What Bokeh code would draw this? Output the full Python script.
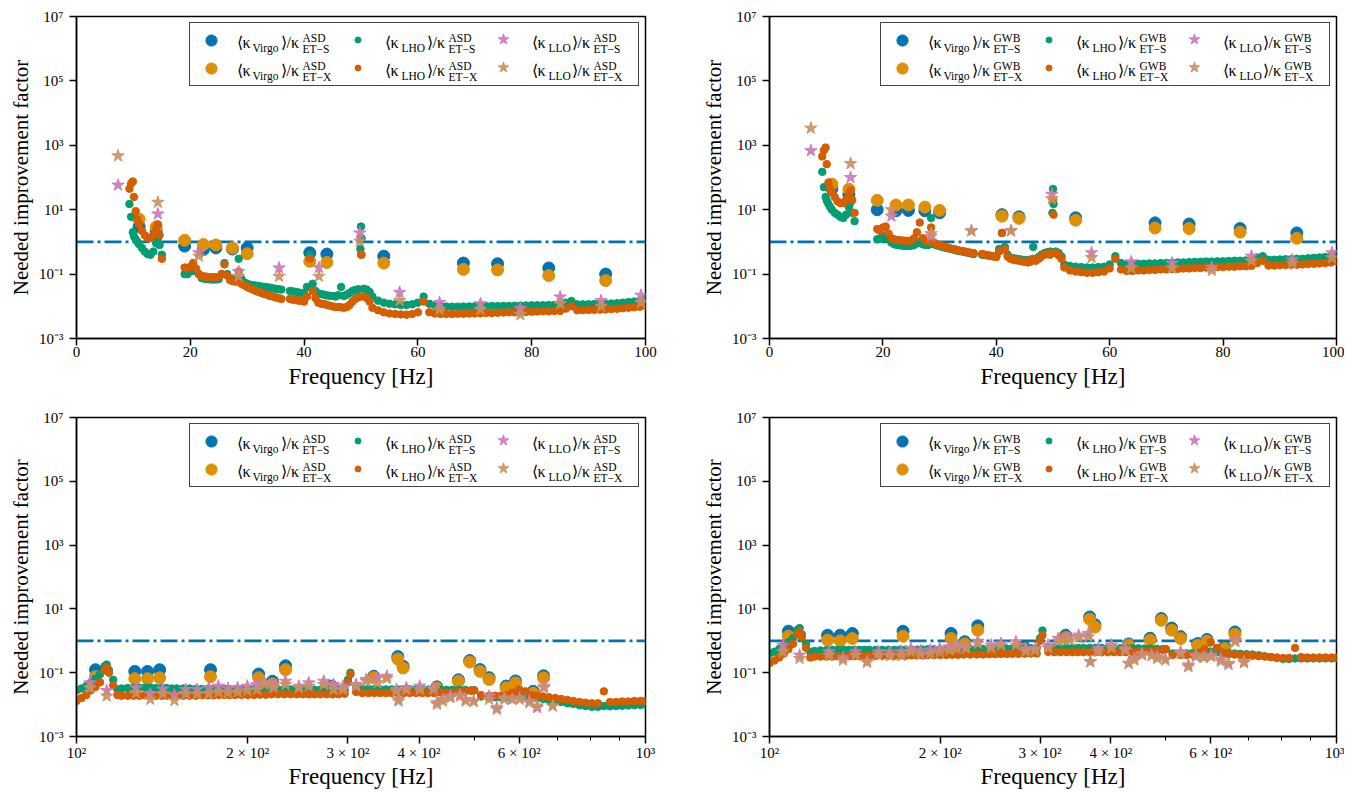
from bokeh.plotting import figure
from bokeh.models import Range1d, FixedTicker, Span, Legend, LegendItem, Label
from bokeh.layouts import column, row
from bokeh.embed import file_html
from bokeh.resources import INLINE

# ---------------- data ----------------
THRESHOLD = 1.0

# frequency grid of the LHO curves, 0-100 Hz panels
FREQ_LO = [9.3, 9.6, 9.9, 10.1, 10.4, 10.7, 11.0, 11.5, 12.0, 12.5, 13.0, 13.5, 14.0, 14.3, 14.6, 15.0,
           19.0, 19.5, 20.0, 20.5, 21.0, 21.5, 22.0, 22.5, 23.0, 23.5, 24.0, 24.5, 25.0, 25.5, 26.0, 26.5,
           27.0, 27.5, 28.0, 28.5, 29.0, 29.5, 30.0, 30.5, 31.0, 31.5, 32.0, 32.5, 33.0, 33.5, 34.0, 34.5,
           35.0, 35.5, 36.0,
           37.5, 38.0, 38.5, 39.0, 39.5, 40.0, 40.5, 41.0, 41.5, 42.0, 42.5, 43.0, 43.5, 44.0, 44.5, 45.0,
           45.5, 46.0, 46.5, 47.0, 47.5, 48.0, 48.5, 49.0, 49.5, 49.9, 50.0, 50.1, 50.5, 51.0, 51.5, 52.0,
           53, 54, 55, 56, 57, 58, 59, 60, 61, 62, 63, 64, 65, 66, 67, 68, 69, 70, 71, 72, 73, 74, 75, 76,
           77, 78, 79, 80, 81, 82, 83, 84, 85, 86, 87, 88, 89, 90, 91, 92, 93, 94, 95, 96, 97, 98, 99, 100]

LHO_S_ASD_LO = [15, 6, 2.0, 1.5, 1.2, 1.0, 0.85, 0.65, 0.5, 0.42, 0.4, 0.5, 0.9, 1.3, 0.8, 0.4,
                0.10, 0.10, 0.12, 0.14, 0.12, 0.10, 0.075, 0.072, 0.07, 0.068, 0.068, 0.068, 0.07, 0.10, 0.22, 0.10,
                0.072, 0.068, 0.065, 0.30, 0.07, 0.055, 0.05, 0.047, 0.045, 0.044, 0.043, 0.041, 0.04, 0.039, 0.038, 0.036,
                0.035, 0.034, 0.033,
                0.030, 0.029, 0.028, 0.027, 0.026, 0.025, 0.04, 0.40, 0.05, 0.03, 0.025, 0.024, 0.023, 0.022, 0.021, 0.021,
                0.02, 0.022, 0.04, 0.021, 0.023, 0.026, 0.03, 0.032, 0.034, 0.6, 3.0, 1.3, 0.035, 0.033, 0.028, 0.02,
                0.015, 0.013, 0.012, 0.0115, 0.011, 0.011, 0.0115, 0.013, 0.02, 0.012, 0.0105, 0.01, 0.0098, 0.0097,
                0.0097, 0.0098, 0.0099, 0.01, 0.01, 0.0101, 0.0102, 0.0102, 0.0103, 0.0103, 0.0104, 0.0105, 0.0106,
                0.0107, 0.0108, 0.0108, 0.0109, 0.011, 0.0112, 0.013, 0.0145, 0.0115, 0.0115, 0.0116, 0.0117, 0.0118,
                0.012, 0.0122, 0.0125, 0.013, 0.0135, 0.014, 0.015, 0.017]
LHO_X_ASD_LO = [45, 65, 75, 25, 9, 5, 3.5, 2.2, 1.6, 1.3, 1.3, 1.7, 2.6, 3.5, 1.6, 0.3,
                0.16, 0.15, 0.17, 0.22, 0.15, 0.10, 0.085, 0.085, 0.082, 0.08, 0.08, 0.08, 0.082, 0.10, 0.20, 0.09,
                0.065, 0.06, 0.058, 0.12, 0.05, 0.045, 0.04, 0.036, 0.033, 0.03, 0.028, 0.026, 0.024, 0.023, 0.021, 0.02,
                0.019, 0.018, 0.017,
                0.017, 0.016, 0.016, 0.015, 0.015, 0.014, 0.02, 0.30, 0.03, 0.018, 0.013, 0.012, 0.012, 0.011, 0.0105, 0.01,
                0.0095, 0.0095, 0.0093, 0.009, 0.0095, 0.011, 0.014, 0.017, 0.019, 0.02, 0.4, 0.4, 0.02, 0.018, 0.014, 0.009,
                0.0075, 0.0065, 0.006, 0.0058, 0.0056, 0.0055, 0.0058, 0.0065, 0.014, 0.0065, 0.006, 0.0058, 0.0058,
                0.0058, 0.0059, 0.0059, 0.006, 0.006, 0.0061, 0.0062, 0.0062, 0.0063, 0.0064, 0.0065, 0.0065, 0.0066,
                0.0067, 0.0068, 0.0069, 0.007, 0.007, 0.0071, 0.0072, 0.0085, 0.01, 0.0075, 0.0076, 0.0077, 0.0078,
                0.0079, 0.008, 0.0082, 0.0084, 0.0087, 0.009, 0.0093, 0.0097, 0.0105]
LHO_S_GWB_LO = [150, 50, 25, 19, 15, 12, 10, 8, 7, 6, 5.5, 7, 12, 17, 8, 4.4,
                1.2, 1.25, 1.4, 1.5, 1.2, 0.95, 0.85, 0.8, 0.78, 0.76, 0.75, 0.75, 0.76, 0.8, 0.9, 1.0,
                0.85, 0.8, 0.8, 5.5, 0.85, 0.78, 0.74, 0.7, 0.66, 0.63, 0.6, 0.57, 0.54, 0.52, 0.5, 0.48,
                0.46, 0.44, 0.42,
                0.40, 0.39, 0.38, 0.37, 0.36, 0.35, 0.6, 1.9, 0.7, 0.4, 0.32, 0.31, 0.30, 0.29, 0.28, 0.27,
                0.27, 0.28, 0.7, 0.3, 0.34, 0.4, 0.45, 0.48, 0.5, 8, 44, 15, 0.5, 0.45, 0.35, 0.2,
                0.18, 0.17, 0.165, 0.16, 0.16, 0.165, 0.17, 0.2, 0.36, 0.22, 0.2, 0.2, 0.21, 0.21, 0.215, 0.215,
                0.22, 0.22, 0.225, 0.23, 0.23, 0.235, 0.24, 0.24, 0.245, 0.245, 0.25, 0.25, 0.255, 0.26, 0.26,
                0.265, 0.27, 0.33, 0.36, 0.28, 0.28, 0.285, 0.29, 0.29, 0.3, 0.3, 0.31, 0.32, 0.33, 0.34, 0.35, 0.42]
LHO_X_GWB_LO = [450, 700, 850, 260, 70, 45, 35, 25, 18, 16, 16, 20, 30, 40, 20, 8,
                2.5, 2.2, 2.8, 3.0, 1.8, 1.3, 1.2, 1.15, 1.12, 1.1, 1.08, 1.08, 1.1, 1.3, 2.0, 4.0,
                1.3, 1.1, 1.0, 2.8, 0.95, 0.85, 0.8, 0.75, 0.7, 0.66, 0.62, 0.6, 0.57, 0.54, 0.52, 0.5,
                0.48, 0.46, 0.45,
                0.42, 0.4, 0.38, 0.37, 0.35, 0.34, 0.5, 1.9, 0.6, 0.35, 0.3, 0.28, 0.27, 0.26, 0.25, 0.24,
                0.23, 0.24, 0.3, 0.26, 0.3, 0.36, 0.4, 0.42, 0.4, 0.45, 20, 7, 0.45, 0.38, 0.3, 0.16,
                0.13, 0.12, 0.115, 0.11, 0.11, 0.115, 0.12, 0.15, 0.3, 0.14, 0.125, 0.125, 0.13, 0.13, 0.135, 0.135,
                0.14, 0.14, 0.145, 0.145, 0.15, 0.15, 0.155, 0.155, 0.16, 0.16, 0.165, 0.165, 0.17, 0.17, 0.175,
                0.175, 0.18, 0.22, 0.26, 0.185, 0.185, 0.19, 0.19, 0.195, 0.195, 0.2, 0.205, 0.21, 0.215, 0.22, 0.23, 0.25]

VIRGO_F_LO = [11.0, 14.0, 19.0, 22.3, 24.5, 27.4, 30.0, 41.0, 44.0, 54.0, 68.0, 74.0, 83.0, 93.0]
VIRGO_S_ASD_LO = [3.0, 2.2, 0.74, 0.58, 0.65, 0.6, 0.65, 0.46, 0.42, 0.36, 0.22, 0.21, 0.155, 0.1]
VIRGO_X_ASD_LO = [5.1, 2.9, 1.12, 0.83, 0.8, 0.65, 0.43, 0.25, 0.23, 0.22, 0.14, 0.135, 0.09, 0.063]
VIRGO_S_GWB_LO = [45, 30, 10, 9.3, 9.5, 9.3, 8, 7, 6, 5.6, 3.9, 3.6, 2.6, 1.9]
VIRGO_X_GWB_LO = [62, 43, 19.5, 14, 14, 12, 9.5, 6.3, 5.4, 4.7, 2.7, 2.6, 2.0, 1.3]

LLO_F_LO = [7.3, 14.3, 21.5, 28.5, 35.6, 42.6, 49.8, 56.8, 63.8, 71.0, 78.0, 85.0, 92.2, 99.2]
LLO_S_ASD_LO = [58, 7.4, 0.46, 0.12, 0.155, 0.16, 1.9, 0.027, 0.013, 0.012, 0.0087, 0.0195, 0.015, 0.022]
LLO_X_ASD_LO = [470, 17, 0.36, 0.085, 0.085, 0.085, 1.05, 0.015, 0.0079, 0.0079, 0.0055, 0.012, 0.01, 0.013]
LLO_S_GWB_LO = [680, 100, 6.3, 1.5, 2.2, 2.2, 30, 0.46, 0.24, 0.22, 0.16, 0.36, 0.28, 0.46]
LLO_X_GWB_LO = [3400, 270, 10, 1.8, 2.2, 2.2, 22, 0.33, 0.155, 0.155, 0.13, 0.26, 0.22, 0.32]

# frequency grid of the LHO curves, 100-1000 Hz panels
FREQ_HI = [100, 102, 104, 106, 108, 110, 112, 113, 114, 116,
           118, 120, 123, 126, 129, 132, 135, 138, 141, 144,
           147, 150, 154, 158, 162, 166, 170, 174, 178, 182,
           186, 190, 195, 200, 205, 210, 215, 220, 226, 232,
           238, 244, 250, 256, 262, 268, 275, 282, 289, 296,
           300, 303, 310, 318, 326, 334, 342, 350, 358, 367,
           376, 385, 395, 405, 415, 425, 436, 447, 458, 470,
           482, 494, 500, 514, 531, 544, 557, 571, 585, 600,
           615, 630, 645, 661, 677, 694, 711, 729, 747, 766,
           785, 805, 825, 845, 866, 888, 910, 933, 956, 980, 1000]
LHO_S_ASD_HI = [0.028, 0.032, 0.038, 0.05, 0.065, 0.09, 0.16, 0.18, 0.12, 0.06,
                0.03, 0.032, 0.033, 0.034, 0.034, 0.034, 0.034, 0.033, 0.033, 0.033,
                0.032, 0.032, 0.032, 0.032, 0.031, 0.031, 0.031, 0.031, 0.031, 0.031,
                0.03, 0.03, 0.03, 0.03, 0.03, 0.03, 0.03, 0.03, 0.03, 0.03,
                0.03, 0.03, 0.03, 0.03, 0.029, 0.029, 0.029, 0.029, 0.029, 0.029,
                0.06, 0.1, 0.032, 0.031, 0.031, 0.031, 0.03, 0.03, 0.03, 0.03,
                0.03, 0.03, 0.03, 0.03, 0.029, 0.029, 0.029, 0.029, 0.029, 0.029,
                0.029, 0.028, 0.028, 0.018, 0.017, 0.017, 0.017, 0.017, 0.018, 0.019,
                0.018, 0.017, 0.016, 0.015, 0.014, 0.013, 0.012, 0.011, 0.0105, 0.0095,
                0.009, 0.0085, 0.0085, 0.009, 0.0088, 0.009, 0.0092, 0.0094, 0.0096, 0.0098, 0.01]
LHO_X_ASD_HI = [0.013, 0.016, 0.02, 0.028, 0.036, 0.05, 0.12, 0.14, 0.10, 0.04,
                0.02, 0.019, 0.019, 0.019, 0.019, 0.0195, 0.0195, 0.019, 0.019, 0.019,
                0.019, 0.019, 0.019, 0.019, 0.019, 0.0195, 0.0195, 0.0195, 0.02, 0.02,
                0.02, 0.02, 0.02, 0.02, 0.02, 0.0205, 0.0205, 0.021, 0.021, 0.021,
                0.021, 0.021, 0.021, 0.021, 0.021, 0.021, 0.021, 0.021, 0.021, 0.022,
                0.05, 0.09, 0.025, 0.023, 0.023, 0.023, 0.023, 0.023, 0.023, 0.023,
                0.023, 0.023, 0.023, 0.023, 0.023, 0.023, 0.024, 0.024, 0.024, 0.025,
                0.026, 0.027, 0.028, 0.02, 0.019, 0.019, 0.019, 0.02, 0.024, 0.03,
                0.026, 0.02, 0.019, 0.018, 0.017, 0.016, 0.015, 0.014, 0.013, 0.012,
                0.0115, 0.011, 0.011, 0.026, 0.012, 0.012, 0.0125, 0.0125, 0.013, 0.013, 0.013]
LHO_S_GWB_HI = [0.4, 0.45, 0.55, 0.7, 0.9, 1.2, 2.2, 2.5, 1.6, 0.8,
                0.45, 0.48, 0.5, 0.51, 0.52, 0.52, 0.52, 0.52, 0.52, 0.52,
                0.52, 0.52, 0.52, 0.52, 0.52, 0.52, 0.53, 0.53, 0.53, 0.53,
                0.53, 0.54, 0.54, 0.54, 0.54, 0.55, 0.55, 0.55, 0.55, 0.56,
                0.56, 0.56, 0.56, 0.57, 0.57, 0.57, 0.57, 0.57, 0.58, 0.58,
                1.2, 2.1, 0.6, 0.6, 0.6, 0.6, 0.6, 0.6, 0.6, 0.6,
                0.6, 0.6, 0.59, 0.59, 0.58, 0.58, 0.58, 0.58, 0.57, 0.57,
                0.56, 0.55, 0.54, 0.4, 0.4, 0.4, 0.41, 0.42, 0.44, 0.46,
                0.44, 0.42, 0.41, 0.4, 0.39, 0.38, 0.37, 0.35, 0.33, 0.31,
                0.29, 0.27, 0.27, 0.28, 0.28, 0.28, 0.28, 0.28, 0.28, 0.28, 0.29]
LHO_X_GWB_HI = [0.2, 0.24, 0.3, 0.4, 0.55, 0.8, 1.6, 1.9, 1.3, 0.6,
                0.3, 0.32, 0.32, 0.32, 0.32, 0.325, 0.325, 0.33, 0.33, 0.33,
                0.33, 0.335, 0.335, 0.34, 0.34, 0.34, 0.345, 0.345, 0.35, 0.35,
                0.35, 0.355, 0.355, 0.36, 0.36, 0.365, 0.365, 0.37, 0.37, 0.375,
                0.375, 0.38, 0.38, 0.385, 0.385, 0.39, 0.39, 0.395, 0.4, 0.4,
                1.0, 1.5, 0.45, 0.44, 0.44, 0.44, 0.44, 0.44, 0.44, 0.44,
                0.44, 0.44, 0.44, 0.44, 0.44, 0.44, 0.45, 0.45, 0.45, 0.46,
                0.48, 0.52, 0.55, 0.36, 0.36, 0.36, 0.37, 0.4, 0.55, 0.9,
                0.6, 0.42, 0.38, 0.37, 0.36, 0.35, 0.34, 0.33, 0.32, 0.31,
                0.3, 0.29, 0.29, 0.6, 0.31, 0.3, 0.3, 0.3, 0.3, 0.3, 0.3]

VIRGO_F_HI = [108, 126.6, 133.3, 140, 172, 209, 221, 233, 281, 333, 367, 375, 430, 469, 491, 512, 531, 569, 591, 635, 662]
VIRGO_S_ASD_HI = [0.124, 0.11, 0.11, 0.124, 0.124, 0.091, 0.054, 0.165, 0.038, 0.077, 0.32, 0.16, 0.036, 0.06, 0.24, 0.125, 0.07, 0.038, 0.055, 0.026, 0.08]
VIRGO_X_ASD_HI = [0.075, 0.065, 0.065, 0.069, 0.075, 0.07, 0.045, 0.124, 0.035, 0.07, 0.27, 0.14, 0.033, 0.054, 0.215, 0.11, 0.061, 0.034, 0.048, 0.023, 0.069]
VIRGO_S_GWB_HI = [2.0, 1.5, 1.5, 1.7, 2.0, 1.7, 0.94, 2.95, 0.65, 1.5, 5.6, 3.2, 0.8, 1.2, 5.0, 2.5, 1.35, 0.82, 1.1, 0.65, 1.9]
VIRGO_X_GWB_HI = [1.4, 1.05, 1.0, 1.18, 1.4, 1.18, 0.8, 2.15, 0.55, 1.25, 4.75, 2.7, 0.73, 1.05, 4.4, 2.15, 1.18, 0.73, 0.97, 0.57, 1.6]

LLO_F_HI = [105.6, 113, 127.3, 134.8, 141.8, 148.6, 155.6, 163, 170.8, 177.6,
            184.6, 192, 199.6, 207.5, 214, 222, 233, 246, 256, 272,
            283, 294, 310, 323, 338, 351, 365, 368, 380, 401,
            424, 430, 440, 454, 472, 483, 499, 531, 548, 565,
            583, 601, 625, 645, 663, 687]
LLO_S_ASD_HI = [0.048, 0.0275, 0.0336, 0.0218, 0.031, 0.02, 0.0298, 0.0298, 0.0336, 0.0378,
                0.032, 0.0336, 0.0378, 0.0426, 0.048, 0.0426, 0.054, 0.0378, 0.048, 0.054,
                0.0426, 0.0378, 0.0426, 0.061, 0.0686, 0.077, 0.0298, 0.0146, 0.0336, 0.0378,
                0.0336, 0.0115, 0.0146, 0.0185, 0.02, 0.0146, 0.0129, 0.0185, 0.008, 0.0164,
                0.0146, 0.0164, 0.0129, 0.008, 0.0378, 0.0091]
LLO_X_ASD_HI = [0.0336, 0.0185, 0.0234, 0.0146, 0.0218, 0.0135, 0.0218, 0.0218, 0.0218, 0.025,
                0.0234, 0.025, 0.0275, 0.0298, 0.0426, 0.0336, 0.0426, 0.0336, 0.0378, 0.0426,
                0.0298, 0.0298, 0.0378, 0.054, 0.048, 0.066, 0.0264, 0.0129, 0.0298, 0.0298,
                0.0298, 0.0102, 0.0129, 0.0164, 0.0185, 0.0129, 0.0124, 0.0146, 0.0071, 0.0146,
                0.0146, 0.0146, 0.0115, 0.0091, 0.0336, 0.0091]
LLO_S_GWB_HI = [0.73, 0.356, 0.45, 0.294, 0.45, 0.23, 0.45, 0.44, 0.45, 0.575,
                0.49, 0.51, 0.575, 0.65, 0.73, 0.65, 0.97, 0.73, 0.83, 0.93,
                0.575, 0.575, 0.73, 1.18, 1.33, 1.5, 1.69, 0.22, 0.575, 0.73,
                0.575, 0.196, 0.28, 0.40, 0.356, 0.316, 0.267, 0.45, 0.174, 0.356,
                0.316, 0.356, 0.267, 0.182, 1.05, 0.22]
LLO_X_GWB_HI = [0.45, 0.28, 0.356, 0.249, 0.356, 0.21, 0.356, 0.34, 0.34, 0.45,
                0.374, 0.40, 0.45, 0.51, 0.575, 0.575, 0.83, 0.6, 0.73, 0.73,
                0.475, 0.51, 0.6, 0.97, 1.05, 1.24, 1.33, 0.22, 0.475, 0.6,
                0.51, 0.196, 0.249, 0.356, 0.34, 0.28, 0.249, 0.40, 0.154, 0.316,
                0.294, 0.316, 0.23, 0.196, 0.93, 0.205]

# axes
Y_RANGE = (1e-3, 1e7)
Y_TICKS = [1e-3, 1e-1, 1e1, 1e3, 1e5, 1e7]
Y_TICK_LABELS = ["10⁻³", "10⁻¹", "10¹", "10³", "10⁵", "10⁷"]
X_RANGE_LO = (0, 100)
X_TICKS_LO = [0, 20, 40, 60, 80, 100]
X_RANGE_HI = (100, 1000)
X_TICKS_HI = [100, 200, 300, 400, 600, 1000]
X_TICK_LABELS_HI = ["10²", "2 × 10²", "3 × 10²", "4 × 10²", "6 × 10²", "10³"]
X_MINOR_HI = [500, 700, 800, 900]

X_LABEL = "Frequency [Hz]"
Y_LABEL = "Needed improvement factor"
DETECTORS = ["Virgo", "LHO", "LLO"]
ET_NAMES = ["ET−S", "ET−X"]

# ---------------- style ----------------
COL_VIRGO = ["#0173B2", "#DE8F05"]
COL_LHO = ["#029E73", "#D55E00"]
COL_LLO = ["#CC78BC", "#CA9161"]
FONT = "Liberation Serif"

# legend text geometry (px, relative to the top-right corner of the frame)
LEG_TEXT_X = [-409, -261, -114]
LEG_SUB_DX = [16, 17, 17]
LEG_CLOSE_DX = [44, 42, 40]
LEG_SCRIPT_GAP = 22
LEG_ROW_Y = [-26, -54]


def make_panel(x_hi, width, height, border_left, border_right, border_top, border_bottom,
               xlabel_standoff, data, kind):
    common_fig = dict(width=width, height=height, y_axis_type="log", y_range=Range1d(*Y_RANGE),
                      output_backend="svg", toolbar_location=None,
                      min_border_left=border_left, min_border_right=border_right,
                      min_border_top=border_top, min_border_bottom=border_bottom)
    if x_hi:
        p = figure(x_axis_type="log", x_range=Range1d(*X_RANGE_HI), **common_fig)
        p.xaxis.ticker = FixedTicker(ticks=X_TICKS_HI, minor_ticks=X_MINOR_HI)
        p.xaxis.major_label_overrides = dict(zip(X_TICKS_HI, X_TICK_LABELS_HI))
        x_end = X_RANGE_HI[1]
    else:
        p = figure(x_range=Range1d(*X_RANGE_LO), **common_fig)
        p.xaxis.ticker = FixedTicker(ticks=X_TICKS_LO, minor_ticks=[])
        x_end = X_RANGE_LO[1]
    p.yaxis.ticker = FixedTicker(ticks=Y_TICKS, minor_ticks=[])
    p.yaxis.major_label_overrides = dict(zip(Y_TICKS, Y_TICK_LABELS))

    p.xgrid.visible = False
    p.ygrid.visible = False
    p.background_fill_color = "white"
    p.border_fill_color = "white"
    p.outline_line_color = "black"
    p.outline_line_width = 1.5
    p.outline_line_alpha = 1.0

    for ax in (p.xaxis, p.yaxis):
        ax.axis_line_width = 1.5
        ax.major_tick_line_width = 1.5
        ax.major_tick_out = 7
        ax.major_tick_in = 0
        ax.minor_tick_out = 4
        ax.minor_tick_in = 0
        ax.minor_tick_line_width = 1
        ax.major_label_text_font = FONT
        ax.major_label_text_font_size = "15px"
        ax.major_label_text_color = "black"
        ax.axis_label_text_font = FONT
        ax.axis_label_text_font_style = "normal"
        ax.axis_label_text_color = "black"
    p.xaxis.axis_label = X_LABEL
    p.yaxis.axis_label = Y_LABEL
    p.xaxis.axis_label_text_font_size = "23px"
    p.yaxis.axis_label_text_font_size = "21px"
    p.xaxis.major_label_standoff = 1
    p.xaxis.axis_label_standoff = xlabel_standoff
    p.yaxis.major_label_standoff = 6
    p.yaxis.axis_label_standoff = 3

    span = Span(location=THRESHOLD, dimension="width", line_color=COL_VIRGO[0],
                line_width=2.7, line_dash="17 4 3 4", level="underlay")
    p.add_layout(span)

    freq, lho_s, lho_x, vf, v_s, v_x, lf, l_s, l_x = data
    rv_s = p.scatter(vf, v_s, marker="circle", size=12, fill_color=COL_VIRGO[0], line_color=COL_VIRGO[0])
    rv_x = p.scatter(vf, v_x, marker="circle", size=12, fill_color=COL_VIRGO[1], line_color=COL_VIRGO[1])
    rh_s = p.scatter(freq, lho_s, marker="circle", size=7.5, fill_color=COL_LHO[0], line_color=COL_LHO[0])
    rh_x = p.scatter(freq, lho_x, marker="circle", size=7.5, fill_color=COL_LHO[1], line_color=COL_LHO[1])
    rl_s = p.scatter(lf, l_s, marker="star", size=13, fill_color=COL_LLO[0], line_color=COL_LLO[0], alpha=0.9)
    rl_x = p.scatter(lf, l_x, marker="star", size=13, fill_color=COL_LLO[1], line_color=COL_LLO[1], alpha=0.9)

    common = dict(location="top_right", orientation="vertical", label_standoff=0,
                  label_text_font_size="8px", background_fill_alpha=0.0)
    leg_v = Legend(items=[LegendItem(label=" ", renderers=[rv_s]), LegendItem(label=" ", renderers=[rv_x])],
                   margin=6, padding=3, spacing=0, glyph_width=36, glyph_height=28,
                   label_width=406, label_height=28,
                   border_line_color="#444444", border_line_width=1, border_line_alpha=1.0, **common)
    leg_h = Legend(items=[LegendItem(label=" ", renderers=[rh_s]), LegendItem(label=" ", renderers=[rh_x])],
                   margin=16, padding=0, spacing=13, glyph_width=15, glyph_height=15,
                   label_width=264, label_height=15, border_line_alpha=0.0, **common)
    leg_l = Legend(items=[LegendItem(label=" ", renderers=[rl_s]), LegendItem(label=" ", renderers=[rl_x])],
                   margin=9, padding=0, spacing=0, glyph_width=28, glyph_height=28,
                   label_width=119, label_height=28, border_line_alpha=0.0, **common)
    p.add_layout(leg_v)
    p.add_layout(leg_h)
    p.add_layout(leg_l)

    y_end = Y_RANGE[1]
    for c, name in enumerate(DETECTORS):
        for r, et in enumerate(ET_NAMES):
            x0 = LEG_TEXT_X[c]
            y0 = LEG_ROW_Y[r]
            parts = [
                ("⟨κ", x0, y0, "16px"),
                (name, x0 + LEG_SUB_DX[c], y0 - 5, "11.5px"),
                ("⟩/κ", x0 + LEG_CLOSE_DX[c], y0, "16px"),
                (kind, x0 + LEG_CLOSE_DX[c] + LEG_SCRIPT_GAP, y0 + 5, "11.5px"),
                (et, x0 + LEG_CLOSE_DX[c] + LEG_SCRIPT_GAP, y0 - 6, "11.5px"),
            ]
            for txt, dx, dy, fs in parts:
                p.add_layout(Label(x=x_end, y=y_end, x_offset=dx, y_offset=dy, text=txt,
                                   text_font=FONT, text_font_size=fs, text_color="#000000",
                                   text_alpha=1.0, text_align="left", text_baseline="alphabetic",
                                   level="overlay"))
    return p


p1 = make_panel(False, 699, 409, 76, 54, 16, 71, 4,
                (FREQ_LO, LHO_S_ASD_LO, LHO_X_ASD_LO, VIRGO_F_LO, VIRGO_S_ASD_LO, VIRGO_X_ASD_LO,
                 LLO_F_LO, LLO_S_ASD_LO, LLO_X_ASD_LO), "ASD")
p2 = make_panel(False, 645, 409, 68, 8, 16, 71, 4,
                (FREQ_LO, LHO_S_GWB_LO, LHO_X_GWB_LO, VIRGO_F_LO, VIRGO_S_GWB_LO, VIRGO_X_GWB_LO,
                 LLO_F_LO, LLO_S_GWB_LO, LLO_X_GWB_LO), "GWB")
p3 = make_panel(True, 699, 382, 76, 54, 8, 50, 0,
                (FREQ_HI, LHO_S_ASD_HI, LHO_X_ASD_HI, VIRGO_F_HI, VIRGO_S_ASD_HI, VIRGO_X_ASD_HI,
                 LLO_F_HI, LLO_S_ASD_HI, LLO_X_ASD_HI), "ASD")
p4 = make_panel(True, 645, 382, 68, 8, 8, 50, 0,
                (FREQ_HI, LHO_S_GWB_HI, LHO_X_GWB_HI, VIRGO_F_HI, VIRGO_S_GWB_HI, VIRGO_X_GWB_HI,
                 LLO_F_HI, LLO_S_GWB_HI, LLO_X_GWB_HI), "GWB")

layout = column(row(p1, p2), row(p3, p4))
open("out.html", "w").write(file_html(layout, INLINE, "Needed improvement factor"))
